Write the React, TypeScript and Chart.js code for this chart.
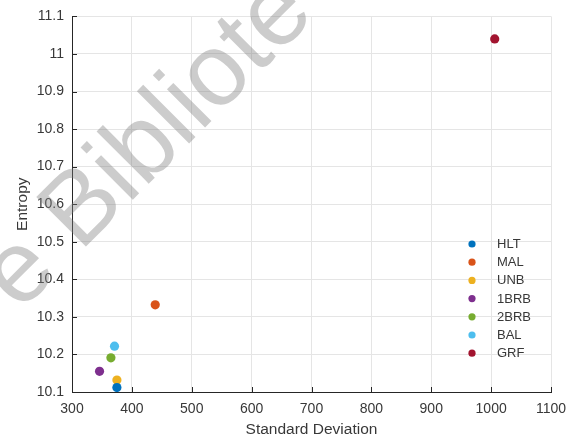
import React, { useEffect, useRef } from 'react';
import { Chart, registerables } from 'chart.js';

Chart.register(...registerables);

const seriesLabels = ['HLT', 'MAL', 'UNB', '1BRB', '2BRB', 'BAL', 'GRF'];
const stdDeviation = [375, 439, 375, 346, 365, 371, 1006];
const entropy = [10.112, 10.332, 10.132, 10.155, 10.191, 10.222, 11.04];
const seriesColors = ['#0072BD', '#D95319', '#EDB120', '#7E2F8E', '#77AC30', '#4DBEEE', '#A2142F'];
const xTickValues = [300, 400, 500, 600, 700, 800, 900, 1000, 1100];
const yTickValues = [10.1, 10.2, 10.3, 10.4, 10.5, 10.6, 10.7, 10.8, 10.9, 11, 11.1];
const xTitle = 'Standard Deviation';
const yTitle = 'Entropy';
const watermarkText = 'e Bibliote';

const FONT = '"Liberation Sans", Arial, Helvetica, sans-serif';
const AXIS_COLOR = '#262626';
const TEXT_COLOR = '#383838';

const inwardTicks = {
  id: 'inwardTicks',
  afterDraw(chart: any) {
    const { ctx, chartArea, scales } = chart;
    const x = scales.x;
    const y = scales.y;
    ctx.save();
    ctx.strokeStyle = AXIS_COLOR;
    ctx.lineWidth = 1;
    ctx.beginPath();
    xTickValues.forEach((v) => {
      const px = Math.round(x.getPixelForValue(v)) + 0.5;
      ctx.moveTo(px, chartArea.bottom);
      ctx.lineTo(px, chartArea.bottom - 5);
    });
    yTickValues.forEach((v) => {
      const py = Math.round(y.getPixelForValue(v)) + 0.5;
      ctx.moveTo(chartArea.left, py);
      ctx.lineTo(chartArea.left + 5, py);
    });
    ctx.stroke();
    ctx.restore();
  },
};

const innerLegend = {
  id: 'innerLegend',
  afterDraw(chart: any) {
    const { ctx, chartArea } = chart;
    const markerX = chartArea.right - 79;
    const textX = chartArea.right - 54;
    const startY = chartArea.bottom - 148;
    const rowH = 18.2;
    ctx.save();
    ctx.font = `13px ${FONT}`;
    ctx.textBaseline = 'middle';
    ctx.textAlign = 'left';
    chart.data.datasets.forEach((ds: any, i: number) => {
      const yy = startY + i * rowH;
      ctx.fillStyle = ds.backgroundColor;
      ctx.beginPath();
      ctx.arc(markerX, yy, 3.6, 0, Math.PI * 2);
      ctx.fill();
      ctx.fillStyle = TEXT_COLOR;
      ctx.fillText(ds.label, textX, yy + 0.5);
    });
    ctx.restore();
  },
};

const watermark = {
  id: 'watermark',
  afterDraw(chart: any) {
    const { ctx } = chart;
    const size = 102;
    ctx.save();
    ctx.translate(22, 273);
    ctx.rotate(-Math.PI / 4);
    ctx.font = `${size}px ${FONT}`;
    ctx.fillStyle = 'rgba(128,128,128,0.4)';
    ctx.textBaseline = 'alphabetic';
    ctx.textAlign = 'left';
    ctx.fillText(watermarkText, -size * 0.29, size * 0.26);
    ctx.restore();
  },
};

export default function App() {
  const canvasRef = useRef<HTMLCanvasElement | null>(null);

  useEffect(() => {
    document.body.style.margin = '0';
    const canvas = canvasRef.current;
    if (!canvas) return;
    const datasets = seriesLabels.map((label, i) => ({
      label,
      data: [{ x: stdDeviation[i], y: entropy[i] }],
      backgroundColor: seriesColors[i],
      borderColor: seriesColors[i],
      borderWidth: 0,
      pointRadius: 4.6,
      pointHoverRadius: 4.6,
    }));
    const chart = new Chart(canvas, {
      type: 'scatter',
      data: { datasets },
      options: {
        responsive: false,
        animation: false,
        devicePixelRatio: 1,
        layout: { padding: { left: 0, top: 15, right: 25, bottom: 0 } },
        plugins: {
          legend: { display: false },
          tooltip: { enabled: false },
        },
        scales: {
          x: {
            type: 'linear',
            min: 300,
            max: 1100,
            afterBuildTicks: (axis: any) => {
              axis.ticks = xTickValues.map((v) => ({ value: v }));
            },
            afterFit: (axis: any) => {
              axis.height = 50;
            },
            ticks: {
              autoSkip: false,
              maxRotation: 0,
              padding: 9,
              color: TEXT_COLOR,
              font: { family: FONT, size: 14 },
              callback: (v: any) => String(v),
            },
            grid: { color: '#e5e5e5', lineWidth: 1, drawTicks: false },
            border: { display: true, color: AXIS_COLOR, width: 1 },
            title: {
              display: true,
              text: xTitle,
              color: TEXT_COLOR,
              font: { family: FONT, size: 15.5 },
              padding: { top: 0, bottom: 3 },
            },
          },
          y: {
            type: 'linear',
            min: 10.1,
            max: 11.1,
            afterBuildTicks: (axis: any) => {
              axis.ticks = yTickValues.map((v) => ({ value: v }));
            },
            afterFit: (axis: any) => {
              axis.width = 72;
            },
            ticks: {
              autoSkip: false,
              padding: 8,
              color: TEXT_COLOR,
              font: { family: FONT, size: 14 },
              callback: (v: any) => String(Math.round(v * 10) / 10),
            },
            grid: { color: '#e5e5e5', lineWidth: 1, drawTicks: false },
            border: { display: true, color: AXIS_COLOR, width: 1 },
            title: {
              display: true,
              text: yTitle,
              color: TEXT_COLOR,
              font: { family: FONT, size: 15.5 },
              padding: { top: 13, bottom: 0 },
            },
          },
        },
      },
      plugins: [inwardTicks, innerLegend, watermark],
    } as any);
    return () => {
      chart.destroy();
    };
  }, []);

  return (
    <div style={{ position: 'absolute', left: 0, top: 0, width: 576, height: 442, background: '#ffffff' }}>
      <canvas ref={canvasRef} width={576} height={442} style={{ display: 'block' }} />
    </div>
  );
}
